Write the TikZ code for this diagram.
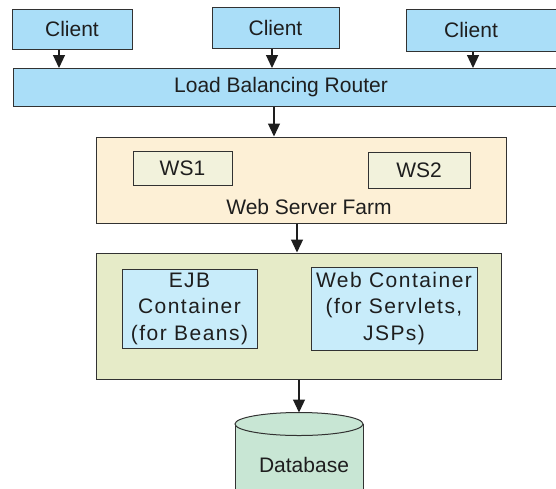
\documentclass[tikz,border=0pt]{standalone}
\usepackage{fontspec}
\setmainfont{Liberation Sans}
\newfontfamily\spacedfont[LetterSpace=7]{Liberation Sans}
\usetikzlibrary{arrows.meta}
\definecolor{clientblue}{RGB}{170,222,248}
\definecolor{farmpeach}{RGB}{253,240,214}
\definecolor{wsfill}{RGB}{242,242,220}
\definecolor{appgreen}{RGB}{230,235,200}
\definecolor{contblue}{RGB}{200,236,250}
\definecolor{dbgreen}{RGB}{200,230,212}
\definecolor{edge}{RGB}{50,50,50}
\definecolor{ink}{RGB}{30,30,30}
\tikzset{
  box/.style={draw=edge, line width=1pt, inner sep=0pt, text=ink,
    font=\fontsize{21}{26.5}\selectfont},
  lbl/.style={inner sep=0pt, text=ink, font=\fontsize{21}{26.5}\selectfont},
  cont/.style={box, fill=contblue, align=center,
    font=\fontsize{21}{26.5}\selectfont\spacedfont},
  arr/.style={draw=ink, line width=1.2pt, -{Triangle[width=12pt,length=13pt]}}
}
\begin{document}
\begin{tikzpicture}[x=1pt,y=-1pt]
\useasboundingbox (0,0) rectangle (556,488);
\clip (0,0) rectangle (556,488);
% clients
\node[box, fill=clientblue, minimum width=120, minimum height=40] (c1) at (72,29) {Client};
\node[box, fill=clientblue, minimum width=127, minimum height=41] (c2) at (275.5,27.5) {Client};
\node[box, fill=clientblue, anchor=north west, minimum width=170, minimum height=42] (c3) at (406,9) {};
\node[lbl] (c3t) at (471,30) {Client};
% router
\node[box, fill=clientblue, anchor=north west, minimum width=560, minimum height=38] (lbr) at (13,68) {};
\node[lbl] (lbrt) at (281,87) {Load Balancing Router};
% web server farm
\node[box, fill=farmpeach, minimum width=410, minimum height=86] (farm) at (301,180) {};
\node[box, fill=wsfill, minimum width=99, minimum height=34] (ws1) at (182.5,168) {WS1};
\node[box, fill=wsfill, minimum width=102, minimum height=36] (ws2) at (419,170) {WS2};
\node[lbl] (farmt) at (309,207) {Web Server Farm};
% application server
\node[box, fill=appgreen, minimum width=405, minimum height=126] (app) at (298.5,316) {};
\node[cont, minimum width=135, minimum height=79] (ejb) at (189.5,308.5) {EJB\\Container\\(for Beans)};
\node[cont, minimum width=166, minimum height=83] (webc) at (394,308.5) {Web Container\\(for Servlets,\\JSPs)};
% database
\coordinate (db) at (299,412.5);
\fill[dbgreen] (235,424) rectangle (363,500);
\draw[edge, line width=1pt] (235,424) -- (235,500) (363,424) -- (363,500);
\draw[edge, fill=dbgreen, line width=1pt] (299,424) ellipse[x radius=64, y radius=11.5];
\begin{scope}
\clip (230,440) rectangle (347.5,488);
\node[lbl] (dbt) at (304,465) {Database};
\end{scope}
% connectors
\draw[arr] ([xshift=-13]c1.south) -- ([xshift=-13]c1.south |- lbr.north);
\draw[arr] ([xshift=-3.5]c2.south) -- ([xshift=-3.5]c2.south |- lbr.north);
\draw[arr] ([xshift=67]c3.south west) -- ([xshift=67]c3.south west |- lbr.north);
\draw[arr] (lbr.south -| farmt.north) ++(-35,0) coordinate (r1) -- (r1 |- farm.north);
\draw[arr] ([xshift=-4]farm.south) -- ([xshift=-4]farm.south |- app.north);
\draw[arr] (app.south -| db) -- (db);
\end{tikzpicture}
\end{document}
